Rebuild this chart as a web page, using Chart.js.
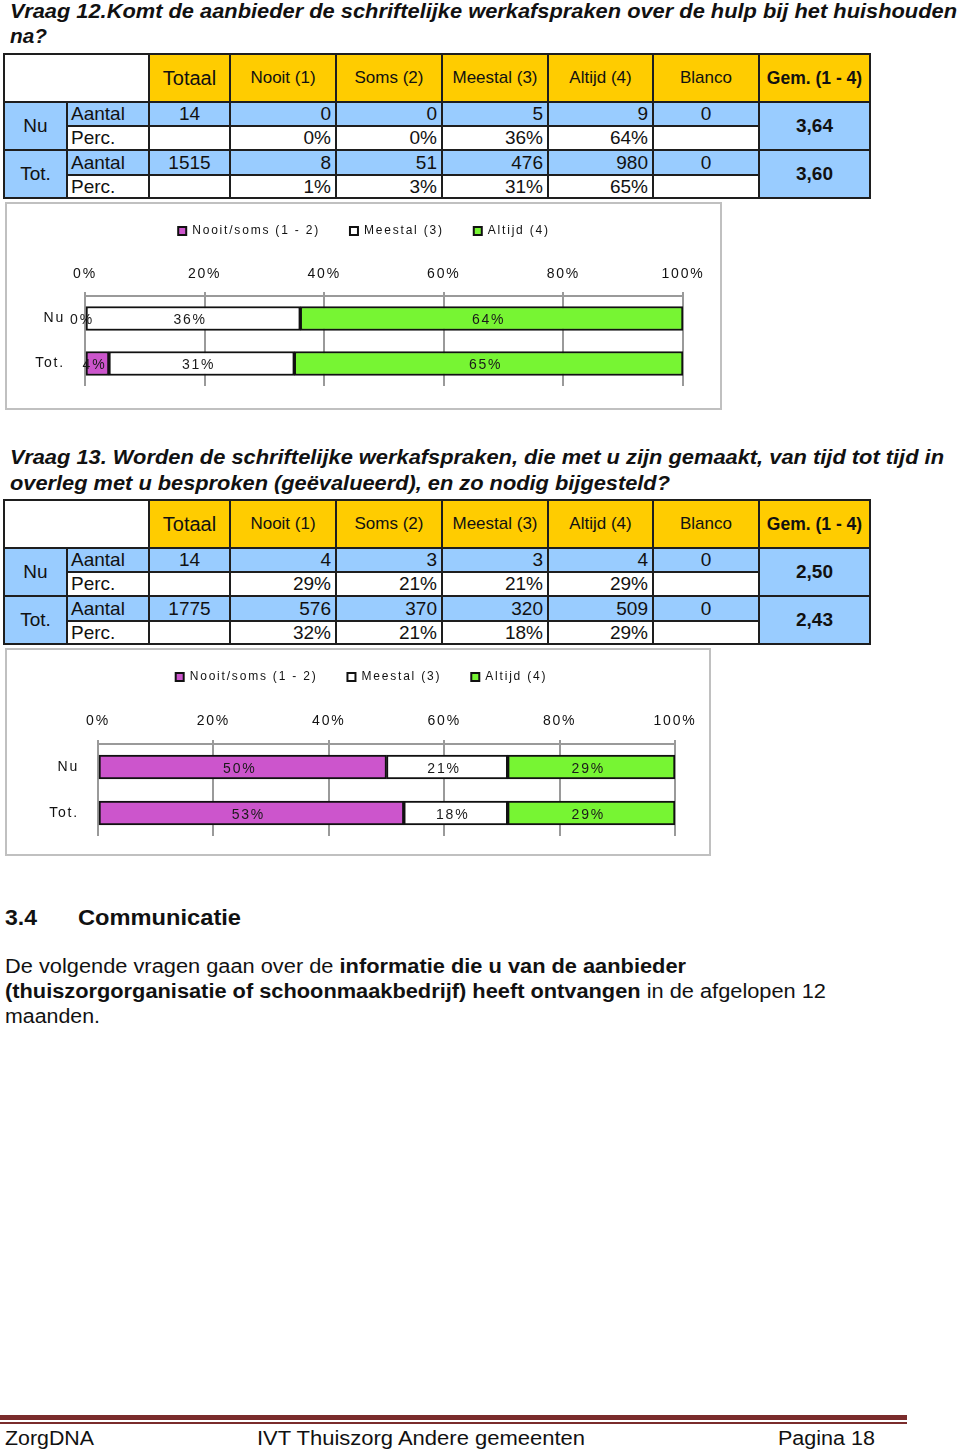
<!DOCTYPE html>
<html>
<head>
<meta charset="utf-8">
<script src="https://cdn.jsdelivr.net/npm/chart.js@4.4.1/dist/chart.umd.min.js"></script>
<style>
  html, body { margin:0; padding:0; background:#fff; }
  body { width:960px; height:1451px; position:relative; overflow:hidden; font-family:'Liberation Sans', Arial, sans-serif; color:#111; }
  .t { position:absolute; white-space:nowrap; transform-origin:0 50%; line-height:24px; height:24px; }
  .tbl { position:absolute; background:#1e1e1e; }
  .cell { position:absolute; box-sizing:border-box; display:flex; align-items:center; overflow:hidden; white-space:nowrap; }
  .box { position:absolute; box-sizing:border-box; border:2px solid #c0c0c0; background:#fff; }
  canvas { position:absolute; }
</style>
</head>
<body>

<div class="t" data-w="947" style="left:10px; top:-1px; font:italic bold 21px 'Liberation Sans';">Vraag 12.Komt de aanbieder de schriftelijke werkafspraken over de hulp bij het huishouden</div>
<div class="t" data-w="37" style="left:10px; top:24px; font:italic bold 21px 'Liberation Sans';">na?</div>

<div id="table12"></div>
<div class="box" style="left:5px; top:202px; width:717px; height:208px;"></div>
<canvas id="chart12" width="717" height="215" style="left:5px; top:195px;"></canvas>

<div class="t" data-w="934" style="left:10px; top:445px; font:italic bold 21px 'Liberation Sans';">Vraag 13. Worden de schriftelijke werkafspraken, die met u zijn gemaakt, van tijd tot tijd in</div>
<div class="t" data-w="660" style="left:10px; top:471px; font:italic bold 21px 'Liberation Sans';">overleg met u besproken (geëvalueerd), en zo nodig bijgesteld?</div>

<div id="table13"></div>
<div class="box" style="left:5px; top:648px; width:706px; height:208px;"></div>
<canvas id="chart13" width="706" height="215" style="left:5px; top:641px;"></canvas>

<div class="t" data-w="32" style="left:5px; top:905px; font:bold 22px 'Liberation Sans';">3.4</div>
<div class="t" data-w="163" style="left:78px; top:905px; font:bold 22px 'Liberation Sans';">Communicatie</div>

<div class="t" data-w="681" style="left:5px; top:955px; font:20px 'Liberation Sans';">De volgende vragen gaan over de <b>informatie die u van de aanbieder</b></div>
<div class="t" data-w="821" style="left:5px; top:980px; font:20px 'Liberation Sans';"><b>(thuiszorgorganisatie of schoonmaakbedrijf) heeft ontvangen</b> in de afgelopen 12</div>
<div class="t" data-w="95" style="left:5px; top:1005px; font:20px 'Liberation Sans';">maanden.</div>

<div style="position:absolute; left:0; top:1415px; width:907px; height:5px; background:#7a2c2c;"></div>
<div style="position:absolute; left:0; top:1422px; width:907px; height:1.5px; background:#7a2c2c;"></div>
<div class="t" data-w="89" style="left:5px; top:1427px; font:20px 'Liberation Sans';">ZorgDNA</div>
<div class="t" data-w="328" style="left:257px; top:1427px; font:20px 'Liberation Sans';">IVT Thuiszorg Andere gemeenten</div>
<div class="t" data-w="97" style="left:778px; top:1427px; font:20px 'Liberation Sans';">Pagina 18</div>

<script>
// ---------- DATA ----------
const categories = ['Nu', 'Tot.'];
const seriesLabels = ['Nooit/soms (1 - 2)', 'Meestal (3)', 'Altijd (4)'];
const xTickValues = [0, 20, 40, 60, 80, 100];

const q12NooitSoms = [0, 4];
const q12Meestal = [36, 31];
const q12Altijd = [64, 65];

const q13NooitSoms = [50, 53];
const q13Meestal = [21, 18];
const q13Altijd = [29, 29];

const tableHeaders = ['Totaal', 'Nooit (1)', 'Soms (2)', 'Meestal (3)', 'Altijd (4)', 'Blanco', 'Gem. (1 - 4)'];
const rowGroups = ['Nu', 'Tot.'];
const rowKinds = ['Aantal', 'Perc.'];

const q12NuAantal = ['14', '0', '0', '5', '9', '0'];
const q12NuPerc = ['', '0%', '0%', '36%', '64%', ''];
const q12NuGem = '3,64';
const q12TotAantal = ['1515', '8', '51', '476', '980', '0'];
const q12TotPerc = ['', '1%', '3%', '31%', '65%', ''];
const q12TotGem = '3,60';

const q13NuAantal = ['14', '4', '3', '3', '4', '0'];
const q13NuPerc = ['', '29%', '21%', '21%', '29%', ''];
const q13NuGem = '2,50';
const q13TotAantal = ['1775', '576', '370', '320', '509', '0'];
const q13TotPerc = ['', '32%', '21%', '18%', '29%', ''];
const q13TotGem = '2,43';

// ---------- TEXT FITTING ----------
document.querySelectorAll('.t[data-w]').forEach(el => {
  const w = el.getBoundingClientRect().width;
  const target = parseFloat(el.dataset.w);
  el.style.transform = 'scaleX(' + (target / w) + ')';
});

// ---------- TABLES ----------
const ORANGE = '#FFCC00', BLUE = '#99CCFF', WHITE = '#FFFFFF';
const colX = [4, 67, 149, 230, 336, 442, 548, 653, 759, 870];

function buildTable(hostId, top, rowsY, data) {
  const host = document.getElementById(hostId);
  const x0 = colX[0] - 1, x1 = colX[colX.length - 1] + 1;
  const y0 = top - 1, y1 = rowsY[rowsY.length - 1] + 1;
  const t = document.createElement('div');
  t.className = 'tbl';
  t.style.left = x0 + 'px'; t.style.top = y0 + 'px';
  t.style.width = (x1 - x0) + 'px'; t.style.height = (y1 - y0) + 'px';
  host.appendChild(t);
  function cell(c0, c1, r0, r1, bg, text, align, font, padR, padL) {
    const d = document.createElement('div');
    d.className = 'cell';
    const L = colX[c0] + 1, R = colX[c1] - 1;
    const T = rowsY[r0] + 1, B = rowsY[r1] - 1;
    d.style.left = (L - x0) + 'px'; d.style.top = (T - y0) + 'px';
    d.style.width = (R - L) + 'px'; d.style.height = (B - T) + 'px';
    d.style.background = bg;
    d.style.justifyContent = align === 'left' ? 'flex-start' : align === 'right' ? 'flex-end' : 'center';
    d.style.font = font;
    d.style.paddingRight = (padR || 0) + 'px';
    d.style.paddingLeft = (padL || 0) + 'px';
    d.textContent = text;
    t.appendChild(d);
  }
  cell(0, 2, 0, 1, WHITE, '', 'center', '18px "Liberation Sans"');
  tableHeaders.forEach((h, i) => {
    let font = '17px "Liberation Sans"';
    if (i === 0) font = '20px "Liberation Sans"';
    if (i === 6) font = 'bold 17.5px "Liberation Sans"';
    cell(2 + i, 3 + i, 0, 1, ORANGE, h, 'center', font);
  });
  const body = '19px "Liberation Sans"';
  data.forEach((grp, g) => {
    const rA = 1 + g * 2, rP = 2 + g * 2;
    cell(0, 1, rA, rP + 1, BLUE, rowGroups[g], 'center', '19px "Liberation Sans"');
    cell(1, 2, rA, rA + 1, BLUE, rowKinds[0], 'left', body, 0, 3);
    cell(1, 2, rP, rP + 1, WHITE, rowKinds[1], 'left', body, 0, 3);
    grp.aantal.forEach((v, i) => {
      const align = (i === 0 || i === 5) ? 'center' : 'right';
      cell(2 + i, 3 + i, rA, rA + 1, BLUE, v, align, body, align === 'right' ? 4 : 0);
    });
    grp.perc.forEach((v, i) => {
      const align = (i === 0 || i === 5) ? 'center' : 'right';
      cell(2 + i, 3 + i, rP, rP + 1, WHITE, v, align, body, align === 'right' ? 4 : 0);
    });
    cell(8, 9, rA, rP + 1, BLUE, grp.gem, 'center', 'bold 19px "Liberation Sans"');
  });
}

buildTable('table12', 54, [54, 102, 126, 150, 175, 198], [
  { aantal: q12NuAantal, perc: q12NuPerc, gem: q12NuGem },
  { aantal: q12TotAantal, perc: q12TotPerc, gem: q12TotGem }
]);
buildTable('table13', 500, [500, 548, 572, 596, 621, 644], [
  { aantal: q13NuAantal, perc: q13NuPerc, gem: q13NuGem },
  { aantal: q13TotAantal, perc: q13TotPerc, gem: q13TotGem }
]);

// ---------- CHARTS ----------
Chart.defaults.font.family = "'Liberation Sans', Arial, sans-serif";
Chart.defaults.color = '#111';
const SPACING = '1.8px';

function makePlugins(legendDx) {
  return [{
    id: 'spacing',
    beforeUpdate(chart) { chart.ctx.letterSpacing = SPACING; },
    beforeLayout(chart) { chart.ctx.letterSpacing = SPACING; },
    afterLayout(chart) {
      const l = chart.legend;
      if (l) { l.left += legendDx; l.right += legendDx; }
    },
    beforeDraw(chart) { chart.ctx.letterSpacing = SPACING; }
  }, {
    id: 'valueLabels',
    afterDatasetsDraw(chart) {
      const ctx = chart.ctx;
      ctx.save();
      ctx.letterSpacing = SPACING;
      ctx.font = "14px 'Liberation Sans', Arial, sans-serif";
      ctx.fillStyle = '#1a1a1a';
      ctx.textAlign = 'center';
      ctx.textBaseline = 'middle';
      chart.data.datasets.forEach((ds, di) => {
        const meta = chart.getDatasetMeta(di);
        meta.data.forEach((bar, i) => {
          const v = ds.data[i];
          const cx = (bar.x + bar.base) / 2;
          ctx.fillText(v + '%', cx - 3, bar.y + 2);
        });
      });
      ctx.restore();
    }
  }];
}

function makeChart(id, values, o) {
  const colors = ['#CC55CC', '#FFFFFF', '#77F533'];
  return new Chart(document.getElementById(id), {
    type: 'bar',
    data: {
      labels: categories,
      datasets: values.map((arr, i) => ({
        label: seriesLabels[i],
        data: arr,
        backgroundColor: colors[i],
        borderColor: '#111111',
        borderWidth: 2,
        borderSkipped: false,
        barThickness: 24
      }))
    },
    options: {
      indexAxis: 'y',
      responsive: false,
      animation: false,
      devicePixelRatio: 1,
      layout: { padding: { left: 0, top: 0, right: o.padRight, bottom: o.padBottom } },
      plugins: {
        legend: {
          position: 'top',
          labels: { font: { size: 12 }, color: '#111', boxWidth: 8, boxHeight: 8, padding: 30 }
        },
        tooltip: { enabled: false }
      },
      scales: {
        x: {
          position: 'top',
          stacked: true,
          min: 0,
          max: 100,
          afterBuildTicks: s => { s.ticks = xTickValues.map(v => ({ value: v })); },
          afterFit: s => { s.height = o.xHeight; },
          ticks: { callback: v => v + '%', font: { size: 14 }, color: '#111', padding: o.tickPad, maxRotation: 0 },
          grid: { color: '#9a9a9a', lineWidth: 2, tickLength: 4, drawTicks: true },
          border: { display: true, color: '#9a9a9a', width: 2 }
        },
        y: {
          stacked: true,
          afterFit: s => { s.width = o.yWidth; s.paddingTop = 0; s.paddingBottom = 0; },
          ticks: { font: { size: 14 }, color: '#111', padding: o.yPad },
          grid: { display: false, drawTicks: false },
          border: { display: false }
        }
      }
    },
    plugins: makePlugins(o.legendDx)
  });
}

makeChart('chart12', [q12NooitSoms, q12Meestal, q12Altijd],
  { padRight: 39, padBottom: 24, xHeight: 49, tickPad: 9, yWidth: 80, yPad: 20, legendDx: 20 });
makeChart('chart13', [q13NooitSoms, q13Meestal, q13Altijd],
  { padRight: 36, padBottom: 20, xHeight: 51, tickPad: 10, yWidth: 93, yPad: 19, legendDx: 21.5 });
</script>
</body>
</html>
